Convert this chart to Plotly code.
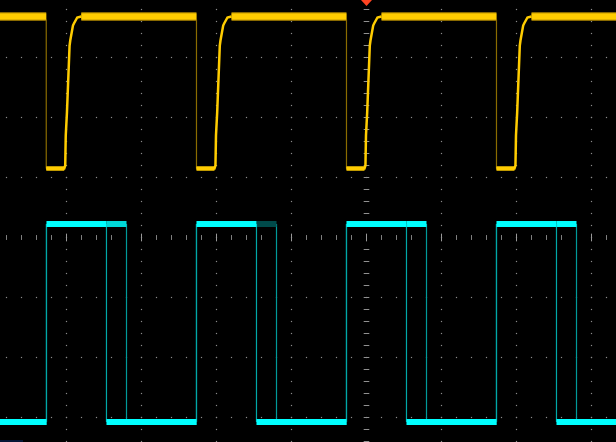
import numpy as np
import plotly.graph_objects as go

# ---------------- data (x: time divisions, y: vertical divisions from centre) ----------------
# CH1 (yellow): falling edges, levels and recovery curve after each fall
ch1_fall_t = [-4.27, -2.267, -0.267, 1.733]
ch1_high = 3.683
ch1_low = 1.15
ch1_rec_dt = [0.24, 0.253, 0.26, 0.276, 0.284, 0.293, 0.303, 0.311, 0.32, 0.333,
              0.343, 0.356, 0.369, 0.387, 0.413, 0.467]
ch1_rec_v = [1.15, 1.2, 1.7, 2.083, 2.4, 2.783, 3.033, 3.2, 3.283, 3.4,
             3.45, 3.533, 3.567, 3.6, 3.667, 3.683]

# CH2 (cyan): rising edges, two overlaid pulse widths (persistence), levels
ch2_rise_t = [-4.267, -2.267, -0.267, 1.733]
ch2_width_a = 0.8
ch2_width_b = 1.067
ch2_high = 0.225
ch2_low = -3.075
ch2_b_tail_colors = ["#00d8d8", "#004a4a", "#00ffff", "#00ffff"]

# screen geometry (divisions)
x_div = [-4, -3, -2, -1, 0, 1, 2, 3]
y_div = [-3, -2, -1, 0, 1, 2, 3]

X0 = -366.5 / 75
X1 = X0 + 616 / 75
Y1 = 237.5 / 60
Y0 = Y1 - 442 / 60

fig = go.Figure()

# ---------------- graticule dots ----------------
sub = np.round(np.arange(-5, 4.01, 0.2), 3)
gx, gy = [], []
for yv in y_div:
    if yv == 0:
        continue
    for xv in sub:
        gx.append(xv); gy.append(yv)
suby = np.round(np.arange(-4, 4.01, 0.2), 3)
for xv in x_div:
    if xv == 0:
        continue
    for yv in suby:
        gx.append(xv); gy.append(yv)
fig.add_trace(go.Scatter(x=gx, y=gy, mode="markers",
                         marker=dict(symbol="square", size=1.2, color="#8a8a8a", line=dict(width=0)),
                         hoverinfo="skip", showlegend=False))

# centre axis ticks
tx = [v for v in sub if abs(v - round(v)) > 1e-6]
fig.add_trace(go.Scatter(x=tx, y=[0] * len(tx), mode="markers",
                         marker=dict(symbol="line-ns", size=3.5, line=dict(width=1, color="#808080")),
                         hoverinfo="skip", showlegend=False))
fig.add_trace(go.Scatter(x=[v for v in x_div], y=[0] * len(x_div), mode="markers",
                         marker=dict(symbol="line-ns", size=5.5, line=dict(width=1, color="#999999")),
                         hoverinfo="skip", showlegend=False))
ty = [v for v in suby if abs(v) > 1e-6]
fig.add_trace(go.Scatter(x=[0] * len(ty), y=ty, mode="markers",
                         marker=dict(symbol="line-ew", size=4, line=dict(width=1, color="#909090")),
                         hoverinfo="skip", showlegend=False))

# ---------------- CH2 (cyan) ----------------
def pulse_levels(width):
    hx, hy, lx, ly, ex, ey = [], [], [], [], [], []
    prev = X0 - 0.1
    for r in ch2_rise_t:
        lx += [prev, r, None]; ly += [ch2_low, ch2_low, None]
        hx += [r, r + width, None]; hy += [ch2_high, ch2_high, None]
        ex += [r, r, None, r + width, r + width, None]
        ey += [ch2_low, ch2_high, None, ch2_high, ch2_low, None]
        prev = r + width
    lx += [prev, X1 + 0.1, None]; ly += [ch2_low, ch2_low, None]
    return hx, hy, lx, ly, ex, ey

# wider pulses (persistence layer)
hx, hy, lx, ly, ex, ey = pulse_levels(ch2_width_b)
fig.add_trace(go.Scatter(x=ex, y=ey, mode="lines", line=dict(color="#009a9a", width=1.2),
                         hoverinfo="skip", showlegend=False))
fig.add_trace(go.Scatter(x=lx, y=ly, mode="lines", line=dict(color="#00e8e8", width=6),
                         hoverinfo="skip", showlegend=False))
for r, c in zip(ch2_rise_t, ch2_b_tail_colors):
    fig.add_trace(go.Scatter(x=[r + ch2_width_a, r + ch2_width_b], y=[ch2_high, ch2_high],
                             mode="lines", line=dict(color=c, width=6),
                             hoverinfo="skip", showlegend=False))

# main pulses
hx, hy, lx, ly, ex, ey = pulse_levels(ch2_width_a)
fig.add_trace(go.Scatter(x=ex, y=ey, mode="lines", line=dict(color="#00a8a8", width=1.2),
                         hoverinfo="skip", showlegend=False))
fig.add_trace(go.Scatter(x=hx + lx, y=hy + ly, mode="lines", line=dict(color="#00ffff", width=6),
                         hoverinfo="skip", showlegend=False))

# ---------------- CH1 (yellow) ----------------
bx, by = [], []      # high band
fx, fy = [], []      # fall edges (dim)
cx, cy = [], []      # low + recovery curve
prev = X0 - 0.1
for f in ch1_fall_t:
    bx += [prev, f, None]; by += [ch1_high, ch1_high, None]
    fx += [f, f, None]; fy += [ch1_high - 0.05, ch1_low, None]
    cx += [f] + [f + d for d in ch1_rec_dt] + [None]
    cy += [ch1_low] + list(ch1_rec_v) + [None]
    prev = f + ch1_rec_dt[-1]
bx += [prev, X1 + 0.1, None]; by += [ch1_high, ch1_high, None]

fig.add_trace(go.Scatter(x=fx, y=fy, mode="lines", line=dict(color="#8a6c00", width=1.2),
                         hoverinfo="skip", showlegend=False))
fig.add_trace(go.Scatter(x=bx, y=by, mode="lines", line=dict(color="#8a6a00", width=9),
                         hoverinfo="skip", showlegend=False))
fig.add_trace(go.Scatter(x=bx, y=by, mode="lines", line=dict(color="#ffcc00", width=6.5),
                         hoverinfo="skip", showlegend=False))
fig.add_trace(go.Scatter(x=cx, y=cy, mode="lines", line=dict(color="#ffcc00", width=2.5),
                         hoverinfo="skip", showlegend=False))
lowx, lowy = [], []
for f in ch1_fall_t:
    lowx += [f, f + ch1_rec_dt[0], None]; lowy += [ch1_low, ch1_low, None]
fig.add_trace(go.Scatter(x=lowx, y=lowy, mode="lines", line=dict(color="#ffcc00", width=4.5),
                         hoverinfo="skip", showlegend=False))

# trigger position marker
tw = 5.5 / 75
fig.add_shape(type="path", xref="x", yref="paper",
              path=f"M {-tw},1 L {tw},1 L 0,{1 - 6/442} Z",
              fillcolor="#ff4422", line=dict(width=0))
# faint channel marker at bottom-left
fig.add_shape(type="line", xref="paper", yref="paper",
              x0=0, x1=23 / 616, y0=1 / 442, y1=1 / 442,
              line=dict(color="#0a2a6a", width=1))

fig.update_layout(
    width=616, height=442, autosize=False,
    margin=dict(l=0, r=0, t=0, b=0, pad=0),
    paper_bgcolor="#000000", plot_bgcolor="#000000",
    xaxis=dict(range=[X0, X1], visible=False, showgrid=False, zeroline=False, fixedrange=True),
    yaxis=dict(range=[Y0, Y1], visible=False, showgrid=False, zeroline=False, fixedrange=True),
    showlegend=False,
)

fig.write_html("out.html", config={"displayModeBar": False, "staticPlot": True},
               post_script="document.body.style.margin='0';document.body.style.background='#000';")
